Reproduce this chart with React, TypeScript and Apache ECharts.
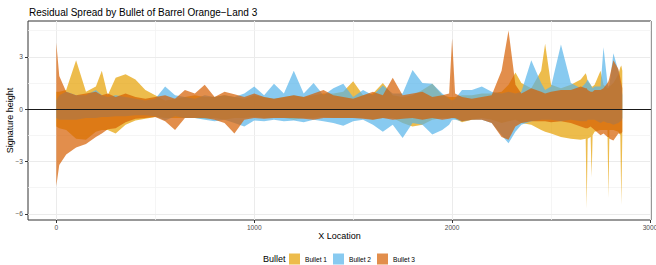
import React, { useEffect, useRef } from "react";
import * as echarts from "echarts";

// X locations shared by all ribbons
const X = [
  0, 15, 50, 100, 150, 200, 230, 260, 300, 350,
  400, 450, 500, 550, 600, 650, 700, 750, 800, 850,
  900, 950, 1000, 1050, 1100, 1150, 1200, 1250, 1300, 1350,
  1400, 1450, 1500, 1550, 1600, 1650, 1700, 1750, 1800, 1850,
  1900, 1950, 1985, 2000, 2015, 2050, 2100, 2150, 2200, 2250,
  2285, 2320, 2350, 2400, 2450, 2470, 2500, 2550, 2600, 2650,
  2675, 2680, 2685, 2700, 2705, 2710, 2720, 2750, 2765, 2785,
  2790, 2795, 2815, 2840, 2850, 2855, 2860,
];

const B1_HI = [
  1.0, 1.0, 1.1, 2.8, 1.0, 1.3, 2.2, 0.8, 1.8, 2.0,
  1.7, 1.1, 0.8, 0.5, 0.6, 0.7, 0.8, 0.7, 0.7, 0.8,
  0.7, 0.6, 0.8, 0.7, 0.6, 0.7, 0.8, 0.7, 0.8, 0.9,
  0.9, 1.0, 1.6, 0.8, 0.9, 1.5, 0.8, 0.7, 0.8, 1.1,
  1.45, 0.8, 0.7, 0.7, 0.7, 0.8, 0.8, 0.9, 0.9, 1.0,
  1.4, 2.1, 1.5, 1.2, 2.2, 3.75, 1.4, 1.2, 1.4, 1.7,
  2.05, 1.9, 1.6, 1.4, 1.3, 1.3, 1.4, 2.2, 1.4, 1.2,
  1.2, 1.3, 1.5, 2.0, 2.4, 2.5, 2.2,
];
const B1_LO = [
  -1.0, -1.1, -1.2, -1.7, -1.75, -1.3, -1.2, -1.2, -1.4, -0.9,
  -0.65, -0.55, -0.45, -0.5, -0.5, -0.5, -0.5, -0.55, -0.5, -0.6,
  -0.5, -0.5, -0.45, -0.5, -0.5, -0.5, -0.6, -0.5, -0.5, -0.45,
  -0.5, -0.5, -0.5, -0.5, -0.6, -0.5, -0.5, -0.8, -1.0, -0.9,
  -0.6, -0.5, -0.5, -0.5, -0.55, -0.75, -0.6, -0.5, -0.6, -0.8,
  -0.7, -0.6, -0.8, -0.9, -1.2, -1.3, -1.4, -1.6, -1.7, -1.75,
  -1.7, -5.7, -1.7, -1.6, -3.9, -1.5, -1.3, -1.2, -1.2, -1.2,
  -5.1, -1.2, -1.2, -1.3, -1.5, -5.5, -1.5,
];

const B2_HI = [
  0.5, 0.8, 1.0, 0.8, 0.8, 1.1, 0.8, 0.7, 0.8, 0.7,
  0.6, 0.5, 0.6, 1.3, 0.8, 0.7, 0.6, 0.8, 0.7, 0.8,
  0.7, 0.9, 1.3, 0.8, 1.45, 0.9, 2.2, 0.9, 1.5, 0.8,
  1.2, 1.45, 0.7, 1.1, 0.8, 1.35, 0.9, 0.9, 2.25, 1.5,
  1.45, 0.9, 0.6, 0.5, 0.6, 1.1, 1.1, 1.3, 1.0, 0.9,
  1.0, 0.9, 1.0, 2.8, 1.5, 1.1, 1.3, 3.7, 1.5, 1.2,
  1.5, 1.6, 1.7, 1.4, 1.3, 1.2, 1.3, 1.3, 3.55, 1.5,
  1.3, 1.4, 3.2, 2.2, 1.5, 1.3, 0.8,
];
const B2_LO = [
  -0.5, -0.6, -0.6, -0.6, -0.5, -0.5, -0.45, -0.45, -0.4, -0.4,
  -0.35, -0.35, -0.4, -0.65, -0.4, -0.5, -0.5, -0.6, -0.7, -0.6,
  -0.8, -1.0, -0.65, -0.7, -0.6, -0.7, -0.65, -0.75, -0.6, -0.7,
  -0.8, -0.95, -0.7, -0.6, -0.9, -1.3, -0.9, -1.65, -0.8, -0.9,
  -1.45, -1.2, -0.9, -0.6, -0.6, -0.7, -0.6, -0.6, -0.8, -1.5,
  -1.95, -1.3, -0.9, -0.7, -0.6, -0.6, -0.6, -0.7, -0.6, -0.7,
  -0.7, -0.7, -0.6, -0.6, -0.6, -0.6, -0.6, -0.8, -0.7, -0.8,
  -0.8, -0.8, -0.9, -0.8, -0.7, -0.7, -0.5,
];

const B3_HI = [
  3.8, 1.9, 1.0, 0.8, 0.9, 1.0, 0.8, 0.9, 0.7, 0.9,
  0.7, 0.6, 0.7, 0.8, 0.6, 1.1, 0.9, 1.4, 0.7, 1.0,
  0.85, 0.7, 0.9, 0.7, 0.6, 0.7, 0.8, 0.7, 0.9, 1.1,
  0.8, 0.7, 0.6, 0.8, 1.0, 0.8, 1.8, 0.8, 0.9, 1.0,
  0.7, 0.8, 0.9, 4.05, 0.9, 0.7, 0.6, 0.7, 0.8, 2.2,
  4.5, 1.4, 0.9, 1.2, 1.0, 0.9, 1.0, 1.1, 1.1, 1.3,
  1.2, 1.2, 1.1, 1.0, 1.0, 1.0, 1.1, 1.1, 1.2, 1.5,
  1.6, 1.8, 2.8, 2.3, 1.8, 1.5, 1.2,
];
const B3_LO = [
  -4.4, -3.2, -2.6, -2.2, -2.0, -1.6, -1.4, -1.15, -1.1, -0.75,
  -0.55, -0.5, -0.45, -0.7, -1.2, -0.5, -0.5, -0.5, -0.6, -0.8,
  -1.4, -0.6, -0.5, -0.55, -0.5, -0.5, -0.5, -0.55, -0.6, -0.5,
  -0.5, -0.5, -0.5, -0.55, -0.6, -0.5, -0.6, -0.55, -0.5, -0.6,
  -0.5, -0.6, -0.55, -0.5, -0.5, -0.7, -0.6, -0.6, -0.8, -1.6,
  -1.75, -1.0, -0.8, -0.7, -0.7, -0.7, -0.75, -0.7, -0.8, -1.0,
  -1.1, -1.1, -1.1, -1.0, -1.05, -1.1, -1.2, -1.5, -1.4, -1.6,
  -1.6, -1.7, -1.8, -1.4, -1.4, -1.4, -1.3,
];

const BULLETS = ["Bullet 1", "Bullet 2", "Bullet 3"];
const COLORS = ["rgba(230,159,0,0.7)", "rgba(86,180,233,0.7)", "rgba(213,94,0,0.7)"];

const X_TICKS = [0, 1000, 2000, 3000];
const X_MINOR = [500, 1500, 2500];
const Y_TICKS = [-6, -3, 0, 3];
const Y_MINOR = [-4.5, -1.5, 1.5, 4.5];

const FONT = "Liberation Sans, Arial, Helvetica, sans-serif";

function ribbon(name: string, lo: number[], hi: number[], color: string) {
  return {
    name,
    type: "custom",
    coordinateSystem: "cartesian2d",
    data: X.map((x, i) => [x, lo[i], hi[i]]),
    encode: { x: 0, y: [1, 2] },
    itemStyle: { color },
    silent: true,
    clip: true,
    z: 3,
    renderItem: (params: any, api: any) => {
      if (params.dataIndex !== 0) return null;
      const pts: number[][] = [];
      for (let i = 0; i < X.length; i++) pts.push(api.coord([X[i], hi[i]]));
      for (let i = X.length - 1; i >= 0; i--) pts.push(api.coord([X[i], lo[i]]));
      return {
        type: "polygon",
        shape: { points: pts },
        style: { fill: color, stroke: "none" },
      };
    },
  };
}

const fmt = (v: number) => String(v).replace("-", "\u2212");

export default function App() {
  const ref = useRef<HTMLDivElement>(null);
  useEffect(() => {
    if (!ref.current) return;
    const chart = echarts.init(ref.current, undefined, { renderer: "svg" });
    const major = { color: "#EBEBEB", width: 1, type: "solid" };
    const minor = { color: "#F2F2F2", width: 0.8, type: "solid" };
    const gridLines = [
      ...X_TICKS.map((v) => ({ xAxis: v, lineStyle: major })),
      ...X_MINOR.map((v) => ({ xAxis: v, lineStyle: minor })),
      ...Y_TICKS.map((v) => ({ yAxis: v, lineStyle: major })),
      ...Y_MINOR.map((v) => ({ yAxis: v, lineStyle: minor })),
    ];
    chart.setOption({
      animation: false,
      textStyle: { fontFamily: FONT },
      title: {
        text: "Residual Spread by Bullet of Barrel Orange\u2212Land 3",
        left: 24,
        top: 2,
        textStyle: { fontSize: 10, fontWeight: "normal", color: "#000", fontFamily: FONT },
      },
      grid: {
        left: 28,
        right: 5,
        top: 21,
        bottom: 45,
        show: true,
        borderColor: "#333333",
        borderWidth: 1,
        backgroundColor: "#fff",
        containLabel: false,
        outerBoundsMode: "none",
      },
      xAxis: {
        type: "value",
        min: -143,
        max: 3005,
        name: "X Location",
        nameLocation: "middle",
        nameGap: 11,
        nameMoveOverlap: false,
        nameTextStyle: { fontSize: 9, color: "#000", fontFamily: FONT },
        axisLine: { show: false, onZero: false },
        axisTick: { show: true, length: 3, customValues: X_TICKS, lineStyle: { color: "#333" } },
        axisLabel: { customValues: X_TICKS, fontSize: 6.6, color: "#4D4D4D", margin: 4, formatter: fmt, fontFamily: FONT },
        splitLine: { show: false },
      },
      yAxis: {
        type: "value",
        min: -6.35,
        max: 5.05,
        name: "Signature height",
        nameLocation: "middle",
        nameGap: 14,
        nameMoveOverlap: false,
        nameTextStyle: { fontSize: 9, color: "#000", fontFamily: FONT },
        axisLine: { show: false, onZero: false },
        axisTick: { show: true, length: 3, customValues: Y_TICKS, lineStyle: { color: "#333" } },
        axisLabel: { customValues: Y_TICKS, fontSize: 6.6, color: "#4D4D4D", margin: 5, formatter: fmt, fontFamily: FONT },
        splitLine: { show: false },
      },
      legend: {
        left: 289,
        top: 253.5,
        padding: 0,
        itemWidth: 11,
        itemHeight: 11,
        itemGap: 6,
        icon: "rect",
        textStyle: { fontSize: 6.6, color: "#000", fontFamily: FONT },
        data: BULLETS.map((b, i) => ({ name: b, icon: "rect", itemStyle: { color: COLORS[i] } })),
        selectedMode: false,
      },
      graphic: [
        {
          type: "text",
          left: 263,
          top: 254,
          style: { text: "Bullet", fontSize: 9, fill: "#000", fontFamily: FONT },
        },
      ],
      series: [
        {
          name: "grid",
          type: "line",
          data: [],
          silent: true,
          z: 1,
          markLine: {
            z: 1,
            silent: true,
            symbol: ["none", "none"],
            label: { show: false },
            animation: false,
            data: gridLines,
          },
        },
        ribbon(BULLETS[0], B1_LO, B1_HI, COLORS[0]),
        ribbon(BULLETS[1], B2_LO, B2_HI, COLORS[1]),
        ribbon(BULLETS[2], B3_LO, B3_HI, COLORS[2]),
        {
          name: "zero",
          type: "line",
          data: [],
          silent: true,
          z: 10,
          markLine: {
            z: 10,
            silent: true,
            symbol: ["none", "none"],
            label: { show: false },
            animation: false,
            lineStyle: { color: "#1a1a1a", width: 1, type: "solid" },
            data: [{ yAxis: 0 }],
          },
        },
      ],
    });
    return () => chart.dispose();
  }, []);
  return (
    <div
      ref={ref}
      style={{ position: "fixed", left: 0, top: 0, width: 656, height: 265, background: "#fff" }}
    />
  );
}
